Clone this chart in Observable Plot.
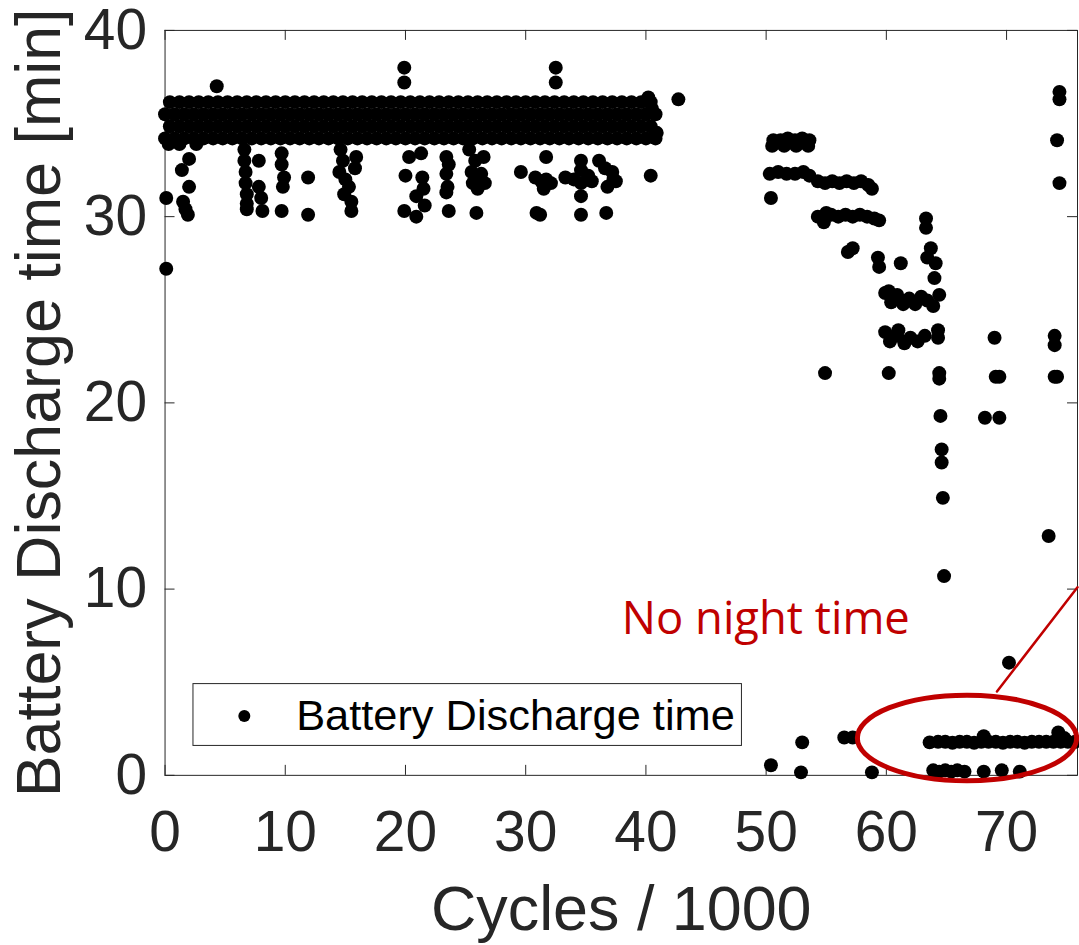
<!DOCTYPE html>
<html>
<head>
<meta charset="utf-8">
<script src="https://cdn.jsdelivr.net/npm/d3@7"></script>
<script src="https://cdn.jsdelivr.net/npm/@observablehq/plot@0.6"></script>
<style>
  html, body { margin: 0; padding: 0; background: #fff; overflow: hidden; }
  #chart { width: 1079px; height: 945px; overflow: hidden; position: relative; }
  svg { display: block; }
</style>
</head>
<body>
<div id="chart"></div>
<script>
// ---- data ----
const xTicks = [0, 10, 20, 30, 40, 50, 60, 70];
const yTicks = [0, 10, 20, 30, 40];
const xTitle = "Cycles / 1000";
const yTitle = "Battery Discharge time [min]";
const seriesName = "Battery Discharge time";

// dense band of readings (34–36.5 min) between 0 and ~41 k cycles
const bandLevelsA = [34.2, 35.5];
const bandLevelsB = [34.85, 36.15];
const bandCyclesA = [0,0.8,1.6,2.4,3.2,4,4.8,5.6,6.4,7.2,8,8.8,9.6,10.4,11.2,12,12.8,13.6,14.4,15.2,16,16.8,17.6,18.4,19.2,20,20.8,21.6,22.4,23.2,24,24.8,25.6,26.4,27.2,28,28.8,29.6,30.4,31.2,32,32.8,33.6,34.4,35.2,36,36.8,37.6,38.4,39.2,40,40.8];
const bandCyclesB = [0.4,1.2,2,2.8,3.6,4.4,5.2,6,6.8,7.6,8.4,9.2,10,10.8,11.6,12.4,13.2,14,14.8,15.6,16.4,17.2,18,18.8,19.6,20.4,21.2,22,22.8,23.6,24.4,25.2,26,26.8,27.6,28.4,29.2,30,30.8,31.6,32.4,33.2,34,34.8,35.6,36.4,37.2,38,38.8,39.6,40.4];

// individual readings [cycles/1000, minutes]
const scatterPoints = [
  [0.1,31.0],[0.1,27.2],[2.0,33.1],[1.4,32.5],[2.0,31.6],[1.5,30.8],[1.7,30.4],[1.9,30.1],
  [0.3,33.9],[1.2,33.9],[2.6,33.9],
  [4.3,37.0],
  [6.6,33.6],[6.6,33.0],[6.7,32.4],[6.7,31.8],[6.8,31.2],[6.8,30.7],[6.8,30.4],
  [7.8,33.0],[7.8,31.6],[8.0,31.0],[8.1,30.3],
  [9.7,33.4],[9.7,32.8],[9.9,32.1],[9.8,31.6],[9.7,30.3],
  [11.9,32.1],[11.9,30.1],
  [14.6,33.6],[14.8,33.0],[14.5,32.4],[15.0,32.0],[15.3,31.6],[14.9,31.2],[15.5,30.8],[15.5,30.3],[15.9,33.2],[15.8,32.6],
  [19.9,38.0],[19.9,37.2],
  [20.3,33.2],[20.0,32.2],[20.9,31.1],[19.9,30.3],[20.9,30.0],[21.4,32.1],[21.3,33.4],[21.5,31.5],[21.6,30.6],
  [23.4,33.2],[23.4,32.3],[23.5,31.6],[23.4,31.3],[23.6,30.3],[23.6,32.8],
  [25.3,33.6],[25.8,33.0],[26.5,33.2],[25.5,32.4],[26.3,32.3],[25.6,31.8],[26.6,31.8],[26.0,31.5],[25.9,30.2],
  [29.6,32.4],[30.8,32.1],[31.3,31.9],[31.7,32.0],[32.1,31.8],[31.5,31.5],[31.7,33.2],[30.9,30.2],[31.2,30.1],
  [32.5,38.0],[32.5,37.2],
  [34.6,33.0],[34.6,32.5],[34.6,31.8],[34.6,31.1],[34.6,30.1],[33.3,32.1],[34.0,32.0],[35.2,32.2],[35.5,31.9],
  [36.1,33.0],[36.6,32.6],[37.2,32.4],[37.5,31.9],[36.8,31.6],[37.3,32.0],[36.7,30.2],
  [40.4,32.2],[40.2,36.4],[40.5,35.8],[40.9,34.5],[42.7,36.3],
  [50.6,34.1],[51.2,34.1],[51.8,34.2],[52.4,34.1],[53.0,34.2],[53.6,34.1],
  [50.5,33.8],[51.5,33.8],[52.5,33.8],[53.5,33.8],
  [50.3,32.3],[51.0,32.4],[51.7,32.3],[52.4,32.3],[53.1,32.4],[53.6,32.2],
  [54.3,31.9],[54.9,31.8],[55.5,31.9],[56.1,31.8],[56.7,31.9],[57.3,31.8],[57.9,31.9],[58.5,31.7],[58.8,31.5],
  [54.3,30.0],[54.8,29.7],[55.0,30.2],[55.4,30.1],[56.0,30.0],[56.6,30.1],[57.2,30.0],[57.8,30.1],[58.4,30.0],[59.0,29.9],[59.4,29.8],
  [50.4,31.0],[63.3,29.9],[63.3,29.4],[63.7,28.3],[64.1,27.5],
  [56.8,28.1],[57.2,28.3],[59.3,27.8],[59.4,27.3],[61.2,27.5],[63.4,27.8],[64.0,26.7],
  [59.9,25.9],[60.2,26.0],[60.4,25.4],[60.9,25.8],[61.4,25.3],[61.9,25.6],[62.4,25.3],[62.9,25.7],[63.4,25.5],[63.9,25.2],[64.4,25.8],
  [59.9,23.8],[60.3,23.3],[60.9,23.6],[61.0,23.9],[61.5,23.2],[62.0,23.5],[62.6,23.3],[63.2,23.6],[64.3,23.9],[64.3,23.5],
  [69.0,23.5],[74.0,23.6],[74.0,23.1],
  [54.9,21.6],[60.2,21.6],[64.4,21.6],[64.4,21.3],[69.1,21.4],[69.4,21.4],[74.0,21.4],[74.2,21.4],
  [64.5,19.3],[68.2,19.2],[69.4,19.2],[64.6,17.5],[64.6,16.8],[64.7,14.9],[73.5,12.85],[64.8,10.7],[70.2,6.05],
  [74.4,36.7],[74.4,36.3],[74.2,34.1],[74.4,31.8],
  [50.4,0.54],[53.0,1.77],[52.9,0.16],[56.5,2.03],[57.2,2.03],[58.8,0.16],[63.6,1.77],
  [64.3,1.8],[64.9,1.8],[65.5,1.75],[66.1,1.8],[66.7,1.8],[67.3,1.75],[67.9,1.8],[68.1,2.1],[68.5,1.8],[69.1,1.8],[69.7,1.75],
  [70.3,1.8],[70.9,1.8],[71.5,1.75],[72.1,1.8],[72.7,1.8],[73.3,1.8],[73.9,1.8],[74.3,2.3],[74.5,1.8],[74.8,2.0],[75.1,1.8],[75.7,1.8],
  [63.9,0.27],[64.4,0.2],[64.9,0.27],[65.4,0.2],[65.9,0.27],[66.5,0.2],[68.1,0.2],[69.6,0.27],[71.1,0.2]
];

// annotation
const noteText = ["No night time"];
const noteX = [38.0];
const noteY = [8.35];
const pointerX = [69.2, 75.9];
const pointerY = [4.5, 10.1];
const ellipseCenter = [66.75, 1.98];
const ellipseRadii = [9.12, 2.3];

// ---- build tables ----
const band = [];
for (const lv of bandLevelsA) for (const c of bandCyclesA) band.push({c, m: lv});
for (const lv of bandLevelsB) for (const c of bandCyclesB) band.push({c, m: lv});
const points = scatterPoints.map(([c, m]) => ({c, m}));
const all = band.concat(points);
const notes = noteText.map((t, i) => ({t, x: noteX[i], y: noteY[i]}));
const pointer = pointerX.map((x, i) => ({x, y: pointerY[i]}));

const FONT = "'Liberation Sans', Arial, Helvetica, sans-serif";
const AX = "#262626";
const RED = "#C00000";

const W = 1082, H = 945, ML = 165, MT = 30, MB = 168, MR = 2;
const frameW = W - ML - MR, frameH = H - MT - MB;

const plot = Plot.plot({
  width: W,
  height: H,
  marginLeft: ML,
  marginTop: MT,
  marginBottom: MB,
  marginRight: MR,
  style: {fontFamily: FONT, color: AX, background: "white", overflow: "visible"},
  x: {domain: [0, 75.9], range: [ML, W - MR]},
  y: {domain: [0, 40]},
  marks: [
    Plot.axisX({ticks: xTicks, tickSize: 0, tickPadding: 35, fontSize: 57, label: null, fill: AX}),
    Plot.axisY({ticks: yTicks, tickSize: 0, tickPadding: 18, fontSize: 57, label: null, fill: AX}),
    Plot.ruleX(xTicks, {stroke: AX, strokeWidth: 1, insetTop: frameH - 10}),
    Plot.ruleX(xTicks, {stroke: AX, strokeWidth: 1, insetBottom: frameH - 10}),
    Plot.ruleY(yTicks, {stroke: AX, strokeWidth: 1, insetRight: frameW - 10}),
    Plot.ruleY(yTicks, {stroke: AX, strokeWidth: 1, insetLeft: frameW - 10}),
    Plot.frame({stroke: AX, strokeWidth: 1}),
    Plot.dot(all, {x: "c", y: "m", r: 7, fill: "black", stroke: null}),
    Plot.line(pointer, {x: "x", y: "y", stroke: RED, strokeWidth: 2.5}),
    Plot.text(notes, {x: "x", y: "y", text: "t", fill: RED, fontSize: 45.5, textAnchor: "start", lineAnchor: "middle",
      fontFamily: "'Open Sans', 'Noto Sans', sans-serif"}),
    Plot.text([xTitle], {frameAnchor: "bottom", textAnchor: "middle", lineAnchor: "middle", dy: 135, fontSize: 63, fill: AX}),
    Plot.text([yTitle], {frameAnchor: "left", textAnchor: "middle", lineAnchor: "middle", rotate: -90, dx: -125, fontSize: 63, fill: AX})
  ]
});

// ellipse around the "no night" readings, placed with the plot's scales
const sx = plot.scale("x"), sy = plot.scale("y");
const svg = d3.select(plot.tagName === "svg" ? plot : plot.querySelector("svg"));
const ecx = sx.apply(ellipseCenter[0]), ecy = sy.apply(ellipseCenter[1]);
const erx = sx.apply(ellipseCenter[0] + ellipseRadii[0]) - ecx;
const ery = ecy - sy.apply(ellipseCenter[1] + ellipseRadii[1]);
svg.append("ellipse")
  .attr("cx", ecx).attr("cy", ecy).attr("rx", erx).attr("ry", ery)
  .attr("fill", "none").attr("stroke", RED).attr("stroke-width", 5);

// legend
const lg = svg.append("g");
lg.append("rect").attr("x", 193.5).attr("y", 685.5).attr("width", 550).attr("height", 62)
  .attr("fill", "white").attr("stroke", AX).attr("stroke-width", 1);
lg.append("circle").attr("cx", 245).attr("cy", 718).attr("r", 6).attr("fill", "black");
lg.append("text").attr("x", 297).attr("y", 732).text(seriesName)
  .attr("text-anchor", "start")
  .attr("font-family", FONT).attr("font-size", 43.5).attr("fill", "black");

document.getElementById("chart").appendChild(plot);
</script>
</body>
</html>
